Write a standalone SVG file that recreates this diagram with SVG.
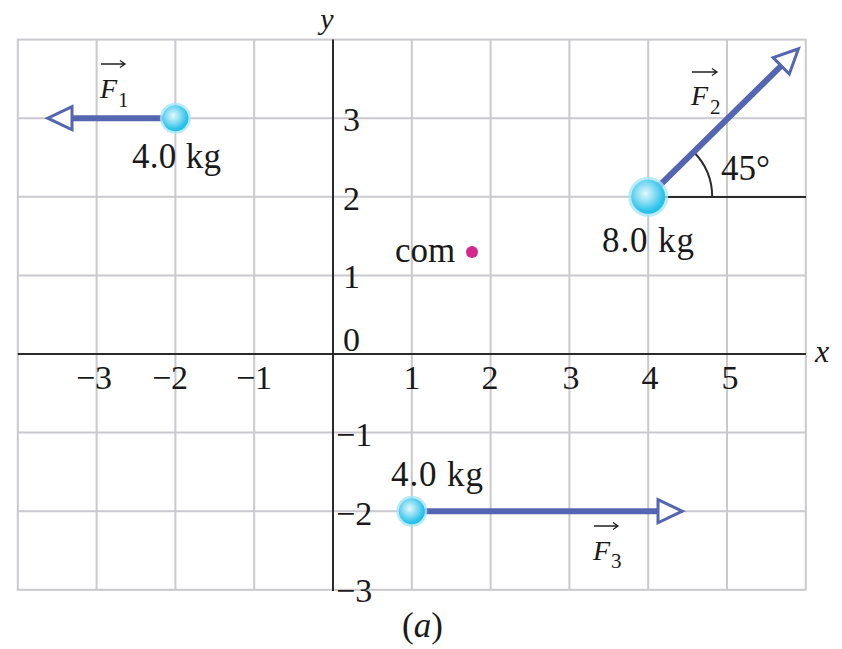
<svg xmlns="http://www.w3.org/2000/svg" width="842" height="649" viewBox="0 0 842 649" font-family="Liberation Serif, DejaVu Serif, serif">
<style>
.grid{stroke:#c9c9ce;stroke-width:2;fill:none}
.axis{stroke:#2a2a2a;stroke-width:2;fill:none}
.num{font-family:'Liberation Serif','DejaVu Serif',serif;font-size:34px;fill:#1a1a1a}
.lbl{font-family:'Liberation Serif','DejaVu Serif',serif;font-size:35px;fill:#1a1a1a}
.it{font-family:'Liberation Serif','DejaVu Serif',serif;font-style:italic;fill:#1a1a1a}
.sub{font-family:'Liberation Serif','DejaVu Serif',serif;font-size:21px;fill:#1a1a1a}
.shaft{stroke:#5465b2;stroke-width:6;fill:none}
.vec{stroke:#222;stroke-width:1.3;fill:none}
</style>
<defs>
<radialGradient id="ball" cx="0.42" cy="0.4" r="0.62">
<stop offset="0" stop-color="#e4f8fd"/>
<stop offset="0.45" stop-color="#86dcf3"/>
<stop offset="0.85" stop-color="#2cc3eb"/>
<stop offset="1" stop-color="#22bce6"/>
</radialGradient>
<marker id="head" markerUnits="userSpaceOnUse" markerWidth="30" markerHeight="30" viewBox="-2 -13 26 26" refX="0" refY="0" orient="auto">
<path d="M0,-10 L21,0 L0,10 Z" fill="#fff" stroke="#5465b2" stroke-width="2.6" stroke-linejoin="miter"/>
</marker>
</defs>
<rect width="842" height="649" fill="#fff"/>
<g id="grid">
<rect x="17.8" y="39.6" width="788" height="550.2" class="grid"/>
<path class="grid" d="M96.6,39.6V589.8M175.4,39.6V589.8M254.2,39.6V589.8M411.8,39.6V589.8M490.6,39.6V589.8M569.4,39.6V589.8M648.2,39.6V589.8M727,39.6V589.8M17.8,118.2H805.8M17.8,196.8H805.8M17.8,275.4H805.8M17.8,432.6H805.8M17.8,511.2H805.8"/>
</g>
<g id="axes">
<path class="axis" d="M17.8,354H806M333,39.6V591"/>
<text class="it" x="327" y="29" font-size="30" text-anchor="middle">y</text>
<text class="it" x="822" y="362" font-size="32" text-anchor="middle">x</text>
<text class="num" x="343" y="131">3</text>
<text class="num" x="343" y="210">2</text>
<text class="num" x="343" y="288">1</text>
<text class="num" x="343" y="351">0</text>
<text class="num" x="336" y="446">−1</text>
<text class="num" x="336" y="525">−2</text>
<text class="num" x="336" y="602">−3</text>
<text class="num" x="94" y="389" text-anchor="middle">−3</text>
<text class="num" x="170" y="389" text-anchor="middle">−2</text>
<text class="num" x="254" y="389" text-anchor="middle">−1</text>
<text class="num" x="412" y="389" text-anchor="middle">1</text>
<text class="num" x="490" y="389" text-anchor="middle">2</text>
<text class="num" x="571" y="389" text-anchor="middle">3</text>
<text class="num" x="650" y="389" text-anchor="middle">4</text>
<text class="num" x="730" y="389" text-anchor="middle">5</text>
</g>
<g id="angle">
<path class="axis" stroke-width="1.6" d="M660,197H806"/>
<path class="axis" stroke-width="1.4" d="M712.2,197 A64,64 0 0 0 693.5,151.7"/>
<text class="lbl" x="721" y="180">45°</text>
</g>
<g id="connectors">
<path class="shaft" d="M170,118.2H72" marker-end="url(#head)"/>
<path class="shaft" d="M652,193 L781.2,65.8" marker-end="url(#head)"/>
<path class="shaft" d="M416,511.2H658" marker-end="url(#head)"/>
</g>
<g id="F1label">
<text class="it" x="100" y="98" font-size="28">F</text>
<text class="sub" x="118" y="107">1</text>
<path class="vec" d="M101,64H125M120,60.5L125,64L120,67.5"/>
</g>
<g id="F2label">
<text class="it" x="691" y="105" font-size="28">F</text>
<text class="sub" x="710" y="114">2</text>
<path class="vec" d="M692,72H717M712,68.5L717,72L712,75.5"/>
</g>
<g id="F3label">
<text class="it" x="593" y="560" font-size="28">F</text>
<text class="sub" x="611" y="568">3</text>
<path class="vec" d="M594,526H618M613,522.5L618,526L613,529.5"/>
</g>
<g id="mass1">
<circle cx="175.4" cy="118.2" r="15.5" fill="#a6e6f6" opacity="0.8"/>
<circle cx="175.4" cy="118.2" r="13" fill="url(#ball)"/>
<text class="lbl" x="132" y="168" textLength="89">4.0 kg</text>
</g>
<g id="mass2">
<circle cx="648.2" cy="196.8" r="20" fill="#a6e6f6" opacity="0.8"/>
<circle cx="648.2" cy="196.8" r="17" fill="url(#ball)"/>
<text class="lbl" x="602" y="252" textLength="92">8.0 kg</text>
</g>
<g id="mass3">
<circle cx="411.8" cy="511.2" r="15.5" fill="#a6e6f6" opacity="0.8"/>
<circle cx="411.8" cy="511.2" r="13" fill="url(#ball)"/>
<text class="lbl" x="391" y="486" textLength="92">4.0 kg</text>
</g>
<g id="com">
<text class="lbl" x="395" y="262">com</text>
<circle cx="472" cy="252" r="6" fill="#d6288c"/>
</g>
<g id="caption">
<text class="lbl" x="402" y="637">(<tspan style="font-style:italic">a</tspan>)</text>
</g>
</svg>
